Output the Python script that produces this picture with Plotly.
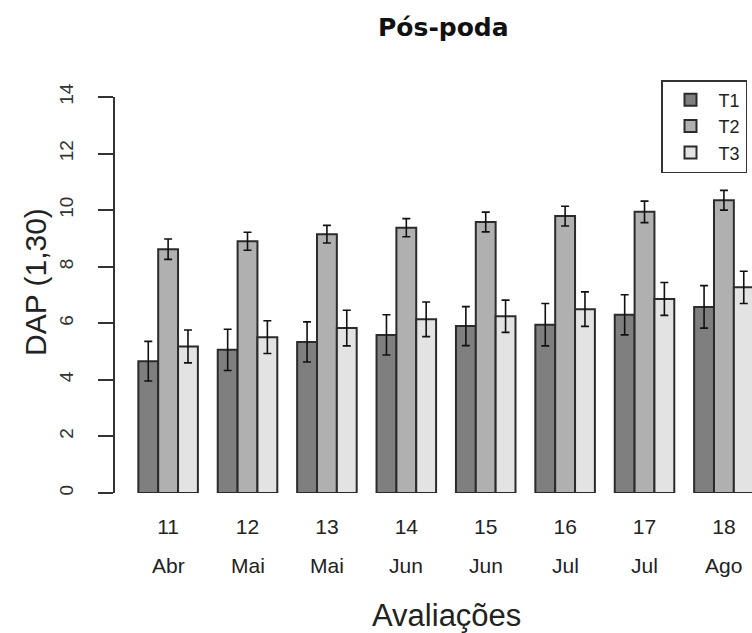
import plotly.graph_objects as go

# Evaluation number, month and treatment means (DAP at 1.30 m) with error half-widths
avaliacoes = ["11", "12", "13", "14", "15", "16", "17", "18"]
meses = ["Abr", "Mai", "Mai", "Jun", "Jun", "Jul", "Jul", "Ago"]

t1_mean = [4.66, 5.06, 5.34, 5.59, 5.90, 5.95, 6.30, 6.58]
t1_err = [0.70, 0.73, 0.71, 0.71, 0.69, 0.75, 0.71, 0.75]
t2_mean = [8.62, 8.90, 9.15, 9.38, 9.58, 9.79, 9.94, 10.35]
t2_err = [0.36, 0.32, 0.31, 0.32, 0.35, 0.35, 0.38, 0.35]
t3_mean = [5.18, 5.51, 5.83, 6.14, 6.25, 6.50, 6.86, 7.27]
t3_err = [0.58, 0.58, 0.63, 0.61, 0.57, 0.61, 0.58, 0.57]

series = [
    ("T1", t1_mean, t1_err, "#7f7f7f"),
    ("T2", t2_mean, t2_err, "#b0b0b0"),
    ("T3", t3_mean, t3_err, "#e3e3e3"),
]

W, H = 752, 633
ML, MR, MT, MB = 115, 0, 97, 140
plot_w = W - ML - MR
plot_h = H - MT - MB
group_px = 79.4          # pixel width of one evaluation slot
x_start = -0.669         # category-axis value at the left edge of the plot


def px_to_paper_x(px):
    return (px - ML) / plot_w


def px_to_paper_y(py):
    return (H - MB - py) / plot_h


fig = go.Figure()
for name, mean, err, color in series:
    fig.add_trace(go.Bar(
        name=name,
        x=avaliacoes,
        y=mean,
        marker=dict(color=color, line=dict(color="#2b2b2b", width=2)),
        error_y=dict(type="data", array=err, visible=True,
                     color="#111111", thickness=1.6, width=4),
    ))

label_font = "Liberation Sans, Arial"
narrow_font = "Liberation Sans Narrow, Arial Narrow, Liberation Sans"

annotations = []
# month under each evaluation number (category index on the x axis)
for idx, mes in enumerate(meses):
    annotations.append(dict(
        x=idx, xref="x", y=px_to_paper_y(565), yref="paper",
        xanchor="center", yanchor="middle",
        text=mes, showarrow=False,
        font=dict(family=narrow_font, size=21, color="#222"),
    ))

annotations.append(dict(
    x=px_to_paper_x(443), y=px_to_paper_y(27), xref="paper", yref="paper",
    xanchor="center", yanchor="middle",
    text="<b>Pós-poda</b>", showarrow=False,
    font=dict(family="DejaVu Sans", size=25, color="#111"),
))
annotations.append(dict(
    x=px_to_paper_x(446), y=px_to_paper_y(615), xref="paper", yref="paper",
    xanchor="center", yanchor="middle",
    text="Avaliações", showarrow=False,
    font=dict(family=label_font, size=31, color="#222"),
))
annotations.append(dict(
    x=px_to_paper_x(35), y=px_to_paper_y(282), xref="paper", yref="paper",
    xanchor="center", yanchor="middle",
    text="DAP (1,30)", showarrow=False, textangle=-90,
    font=dict(family=label_font, size=30, color="#222"),
))

fig.update_layout(
    width=W, height=H,
    margin=dict(l=ML, r=MR, t=MT, b=MB, pad=0),
    paper_bgcolor="white", plot_bgcolor="white",
    barmode="group", bargap=0.25, bargroupgap=0,
    showlegend=True,
    legend=dict(
        x=px_to_paper_x(661), y=px_to_paper_y(80),
        xanchor="left", yanchor="top",
        bgcolor="white", bordercolor="#333", borderwidth=1.5,
        font=dict(family=label_font, size=18, color="#222"),
        itemwidth=46, tracegroupgap=0, entrywidth=110,
    ),
    annotations=annotations,
    xaxis=dict(
        type="category", range=[x_start, x_start + plot_w / group_px],
        showticklabels=True, ticks="", showline=False, showgrid=False, zeroline=False,
        ticklabelstandoff=19,
        tickfont=dict(family=label_font, size=21, color="#222"),
    ),
    yaxis=dict(
        range=[0, 14], tickvals=[0, 2, 4, 6, 8, 10, 12, 14],
        tickangle=-90, ticks="outside", ticklen=15, tickwidth=1.5, tickcolor="#333",
        showline=True, linecolor="#333", linewidth=1.5,
        showgrid=False, zeroline=False, ticklabelstandoff=18,
        tickfont=dict(family=label_font, size=19, color="#333"),
    ),
)

fig.write_html("out.html")
